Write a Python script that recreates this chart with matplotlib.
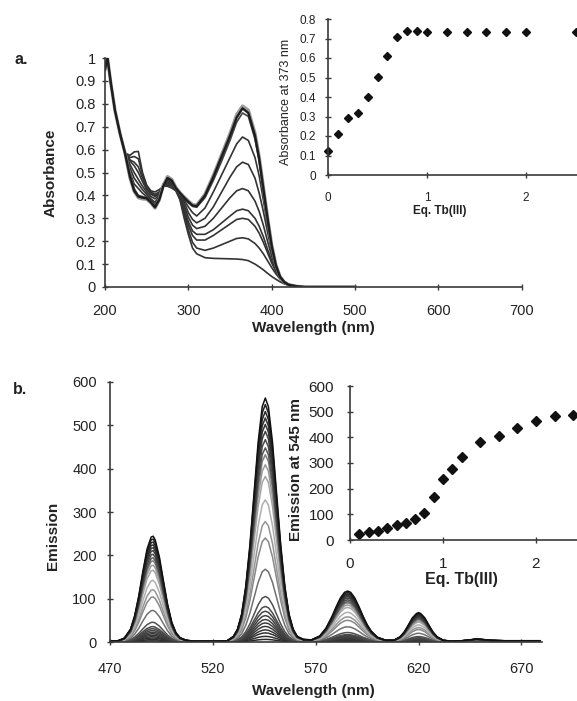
import matplotlib
matplotlib.use("Agg")
import matplotlib.pyplot as plt
from matplotlib.ticker import FuncFormatter

plt.rcParams['font.family'] = ['Liberation Sans', 'DejaVu Sans']

# ---- panel a: absorbance spectra ----
abs_wl = [200, 203, 207, 212, 218, 224, 230, 235, 240, 245, 250, 255, 260, 265,
          270, 275, 280, 285, 290, 295, 300, 305, 310, 320, 330, 340, 350, 358,
          365, 372, 380, 385, 390, 395, 400, 405, 410, 415, 420, 430, 440, 500]

abs_c0 = [0.95, 1.00, 0.89, 0.77, 0.67, 0.585, 0.575, 0.59, 0.592, 0.50, 0.445, 0.42, 0.415, 0.425,
          0.44, 0.44, 0.432, 0.42, 0.38, 0.30, 0.23, 0.17, 0.145, 0.128, 0.125, 0.124, 0.123, 0.122,
          0.12, 0.115, 0.10, 0.088, 0.075, 0.06, 0.046, 0.034, 0.023, 0.014, 0.008, 0.002, 0.0, 0.0]
abs_c1 = [0.95, 1.00, 0.89, 0.77, 0.67, 0.585, 0.565, 0.57, 0.56, 0.49, 0.44, 0.415, 0.405, 0.415,
          0.44, 0.445, 0.44, 0.425, 0.385, 0.315, 0.25, 0.195, 0.17, 0.16, 0.17, 0.185, 0.20, 0.212,
          0.215, 0.21, 0.19, 0.17, 0.145, 0.115, 0.085, 0.058, 0.035, 0.02, 0.01, 0.003, 0.0, 0.0]
abs_c2 = [0.95, 1.00, 0.89, 0.77, 0.67, 0.585, 0.555, 0.545, 0.525, 0.475, 0.43, 0.41, 0.40, 0.41,
          0.445, 0.45, 0.445, 0.425, 0.39, 0.33, 0.27, 0.225, 0.205, 0.205, 0.225, 0.25, 0.275, 0.295,
          0.30, 0.295, 0.265, 0.235, 0.195, 0.15, 0.105, 0.068, 0.04, 0.022, 0.011, 0.003, 0.0, 0.0]
abs_c3 = [0.95, 1.00, 0.89, 0.77, 0.67, 0.585, 0.55, 0.53, 0.50, 0.46, 0.425, 0.405, 0.395, 0.405,
          0.445, 0.455, 0.448, 0.427, 0.395, 0.34, 0.285, 0.245, 0.23, 0.23, 0.25, 0.28, 0.31, 0.333,
          0.34, 0.333, 0.30, 0.265, 0.22, 0.165, 0.115, 0.072, 0.042, 0.023, 0.012, 0.003, 0.0, 0.0]
abs_c4 = [0.95, 1.00, 0.89, 0.77, 0.67, 0.585, 0.535, 0.50, 0.47, 0.44, 0.415, 0.395, 0.385, 0.40,
          0.45, 0.46, 0.452, 0.428, 0.40, 0.355, 0.305, 0.27, 0.255, 0.265, 0.30, 0.345, 0.39, 0.42,
          0.43, 0.42, 0.375, 0.33, 0.27, 0.20, 0.135, 0.08, 0.043, 0.023, 0.012, 0.003, 0.0, 0.0]
abs_c5 = [0.95, 1.00, 0.89, 0.77, 0.67, 0.585, 0.52, 0.475, 0.45, 0.425, 0.405, 0.385, 0.37, 0.395,
          0.45, 0.465, 0.456, 0.43, 0.405, 0.37, 0.325, 0.295, 0.28, 0.30, 0.35, 0.415, 0.48, 0.525,
          0.545, 0.535, 0.475, 0.41, 0.33, 0.24, 0.155, 0.088, 0.045, 0.023, 0.012, 0.003, 0.0, 0.0]
abs_c6 = [0.95, 1.00, 0.89, 0.77, 0.67, 0.585, 0.50, 0.45, 0.43, 0.41, 0.395, 0.38, 0.36, 0.39,
          0.45, 0.47, 0.46, 0.43, 0.408, 0.38, 0.35, 0.325, 0.31, 0.345, 0.415, 0.49, 0.565, 0.625,
          0.655, 0.64, 0.565, 0.485, 0.38, 0.27, 0.17, 0.093, 0.046, 0.023, 0.012, 0.003, 0.0, 0.0]
abs_c7 = [0.95, 1.00, 0.89, 0.77, 0.67, 0.585, 0.49, 0.43, 0.40, 0.395, 0.39, 0.372, 0.35, 0.382,
          0.44, 0.472, 0.462, 0.43, 0.409, 0.388, 0.368, 0.352, 0.348, 0.39, 0.465, 0.55, 0.64, 0.72,
          0.76, 0.745, 0.645, 0.55, 0.42, 0.295, 0.178, 0.094, 0.045, 0.022, 0.01, 0.003, 0.0, 0.0]
abs_c8 = [0.95, 1.00, 0.89, 0.77, 0.67, 0.585, 0.48, 0.42, 0.395, 0.39, 0.387, 0.37, 0.348, 0.38,
          0.44, 0.476, 0.465, 0.432, 0.41, 0.39, 0.372, 0.356, 0.353, 0.40, 0.48, 0.57, 0.66, 0.74,
          0.78, 0.76, 0.66, 0.56, 0.43, 0.30, 0.18, 0.095, 0.045, 0.022, 0.01, 0.003, 0.0, 0.0]
abs_c9 = [0.95, 1.00, 0.89, 0.77, 0.67, 0.585, 0.478, 0.418, 0.39, 0.385, 0.383, 0.368, 0.345, 0.38,
          0.445, 0.482, 0.47, 0.435, 0.412, 0.393, 0.376, 0.36, 0.357, 0.405, 0.487, 0.578, 0.67, 0.752,
          0.79, 0.772, 0.67, 0.568, 0.437, 0.305, 0.183, 0.097, 0.046, 0.022, 0.01, 0.003, 0.0, 0.0]

# inset a: absorbance at 373 nm vs equivalents of Tb(III)
eq_a = [0, 0.1, 0.2, 0.3, 0.4, 0.5, 0.6, 0.7, 0.8, 0.9, 1.0, 1.2, 1.4, 1.6, 1.8, 2.0, 2.5]
a373 = [0.125, 0.21, 0.29, 0.32, 0.40, 0.505, 0.61, 0.71, 0.74, 0.736, 0.735, 0.735,
        0.733, 0.731, 0.731, 0.734, 0.734]

# ---- panel b: emission spectra ----
em_wl = [470, 474, 477, 480, 482, 484, 486, 488, 490, 491, 492, 494, 496, 498, 500, 502, 504,
         507, 511, 516, 522, 527, 530, 532, 534, 536, 538, 540, 542, 544, 545.5, 547, 549, 551,
         553, 555, 557, 559, 561, 564, 568, 572, 575, 578, 580, 582, 584, 585.5, 587, 589, 591,
         593, 595, 597, 600, 604, 608, 611, 613, 615, 617, 619, 620, 621, 623, 625, 627, 629,
         632, 636, 641, 645, 648, 651, 655, 662, 670, 679]
# top spectrum (highest Tb(III) loading)
em_top = [2, 3, 9, 30, 61, 107, 164, 215, 243, 245, 236, 197, 141, 87, 46, 22, 10,
          4, 2, 2, 2, 3, 13, 30, 65, 129, 224, 343, 462, 545, 565, 545, 462, 343,
          224, 129, 65, 30, 13, 6, 5, 14, 32, 60, 82, 102, 115, 118, 115, 102, 82,
          60, 40, 25, 11, 4, 4, 12, 23, 39, 56, 66, 68, 66, 56, 39, 23, 12,
          4, 2, 3, 5, 7, 6, 4, 3, 3, 3]
# peak height at 545 nm of every spectrum drawn
em_peaks = [563, 548, 532, 517, 502, 486, 467, 448, 432, 409, 382, 328, 278, 240, 168,
            105, 82, 71, 61, 52, 44, 36, 28, 21, 13, 6]
em_grays = ['#111111', '#1e1e1e', '#282828', '#303030', '#383838', '#404040', '#4a4a4a',
            '#5a5a5a', '#808080', '#999999', '#a5a5a5', '#b0b0b0', '#959595', '#888888',
            '#707070', '#505050', '#4a4a4a', '#454545', '#424242', '#404040', '#3c3c3c',
            '#383838', '#353535', '#323232', '#2e2e2e', '#2a2a2a']

# inset b: emission at 545 nm vs equivalents of Tb(III)
eq_b = [0.1, 0.2, 0.3, 0.4, 0.5, 0.6, 0.7, 0.8, 0.9, 1.0, 1.1, 1.2, 1.4, 1.6, 1.8, 2.0, 2.2, 2.4]
e545 = [22, 30, 36, 45, 58, 67, 80, 104, 166, 237, 275, 324, 380, 404, 438, 464, 482, 486]

W, H = 577, 701
TXT = '#222222'
AX = '#3a3a3a'


def px_axes(fig, left, top, right, bottom):
    return fig.add_axes([left / W, 1 - bottom / H, (right - left) / W, (bottom - top) / H])


def style_axes(ax, xpad, ypad, size):
    for s in ['top', 'right']:
        ax.spines[s].set_visible(False)
    for s in ['left', 'bottom']:
        ax.spines[s].set_color(AX)
        ax.spines[s].set_linewidth(1.2)
    ax.tick_params(direction='inout', length=5, width=1, color=AX, labelcolor=TXT, labelsize=size)
    ax.tick_params(axis='x', pad=xpad)
    ax.tick_params(axis='y', pad=ypad)


fig = plt.figure(figsize=(W / 100, H / 100), dpi=100)

# main a
ax_a = px_axes(fig, 105, 58, 521.7, 287)
ax_a.patch.set_visible(False)
curves_a = [abs_c0, abs_c1, abs_c2, abs_c3, abs_c4, abs_c5, abs_c6]
for c in curves_a:
    ax_a.plot(abs_wl, c, color='#333333', lw=1.2)
ax_a.plot(abs_wl, abs_c9, color='#9a9a9a', lw=2.4)
ax_a.plot(abs_wl, abs_c7, color='#444444', lw=1.2)
ax_a.plot(abs_wl, abs_c8, color='#1e1e1e', lw=1.7)
ax_a.set_xlim(200, 700)
ax_a.set_ylim(0, 1)
ax_a.set_xticks([200, 300, 400, 500, 600, 700])
ax_a.set_yticks([i / 10 for i in range(11)])
ax_a.yaxis.set_major_formatter(FuncFormatter(lambda v, p: '%g' % round(v, 1)))
style_axes(ax_a, 10, 4, 10.5)
ax_a.set_ylabel('Absorbance', fontsize=11, fontweight='bold', color=TXT)
ax_a.yaxis.set_label_coords(-0.113, 0.5)
ax_a.set_xlabel('Wavelength (nm)', fontsize=11, fontweight='bold', color=TXT)
ax_a.xaxis.set_label_coords(0.5, -0.15)

# inset a
ax_ai = px_axes(fig, 328, 19, 577, 175)
ax_ai.patch.set_visible(False)
ax_ai.plot(eq_a, a373, linestyle='none', marker='D', markersize=4.0, color='#111111', clip_on=False)
ax_ai.set_xlim(0, 249 / 99)
ax_ai.set_ylim(0, 0.8)
ax_ai.set_xticks([0, 1, 2])
ax_ai.set_yticks([i / 10 for i in range(9)])
ax_ai.yaxis.set_major_formatter(FuncFormatter(lambda v, p: '%g' % round(v, 1)))
style_axes(ax_ai, 10, 6, 8.5)
ax_ai.set_ylabel('Absorbance at 373 nm', fontsize=9, color=TXT)
ax_ai.yaxis.set_label_coords(-0.145, 0.47)
ax_ai.set_xlabel('Eq. Tb(III)', fontsize=8.5, fontweight='bold', color=TXT)
ax_ai.xaxis.set_label_coords(0.45, -0.19)

# main b
ax_b = px_axes(fig, 110, 382, 542, 642)
ax_b.patch.set_visible(False)
for h, g in zip(em_peaks[::-1], em_grays[::-1]):
    ax_b.plot(em_wl, [v * h / em_top[30] for v in em_top], color=g, lw=1.1)
ax_b.set_xlim(470, 680)
ax_b.set_ylim(0, 600)
ax_b.set_xticks([470, 520, 570, 620, 670])
ax_b.set_yticks([0, 100, 200, 300, 400, 500, 600])
style_axes(ax_b, 12, 7, 10.5)
ax_b.set_ylabel('Emission', fontsize=11, fontweight='bold', color=TXT)
ax_b.yaxis.set_label_coords(-0.116, 0.41)
ax_b.set_xlabel('Wavelength (nm)', fontsize=11, fontweight='bold', color=TXT)
ax_b.xaxis.set_label_coords(0.47, -0.16)

# inset b
ax_bi = px_axes(fig, 350, 386, 577, 540)
ax_bi.patch.set_visible(False)
ax_bi.plot(eq_b, e545, linestyle='none', marker='D', markersize=4.8, color='#111111', clip_on=False)
ax_bi.set_xlim(0, 227 / 93)
ax_bi.set_ylim(0, 600)
ax_bi.set_xticks([0, 1, 2])
ax_bi.set_yticks([0, 100, 200, 300, 400, 500, 600])
style_axes(ax_bi, 10, 9, 11)
ax_bi.set_ylabel('Emission at 545 nm', fontsize=11, fontweight='bold', color=TXT)
ax_bi.yaxis.set_label_coords(-0.207, 0.455)
ax_bi.set_xlabel('Eq. Tb(III)', fontsize=11.5, fontweight='bold', color=TXT)
ax_bi.xaxis.set_label_coords(0.49, -0.21)

fig.text(21 / W, 1 - 60 / H, 'a.', fontsize=11.5, fontweight='bold', color=TXT, ha='center', va='center')
fig.text(20 / W, 1 - 390 / H, 'b.', fontsize=11.5, fontweight='bold', color=TXT, ha='center', va='center')

fig.savefig('out.png', dpi=100)
